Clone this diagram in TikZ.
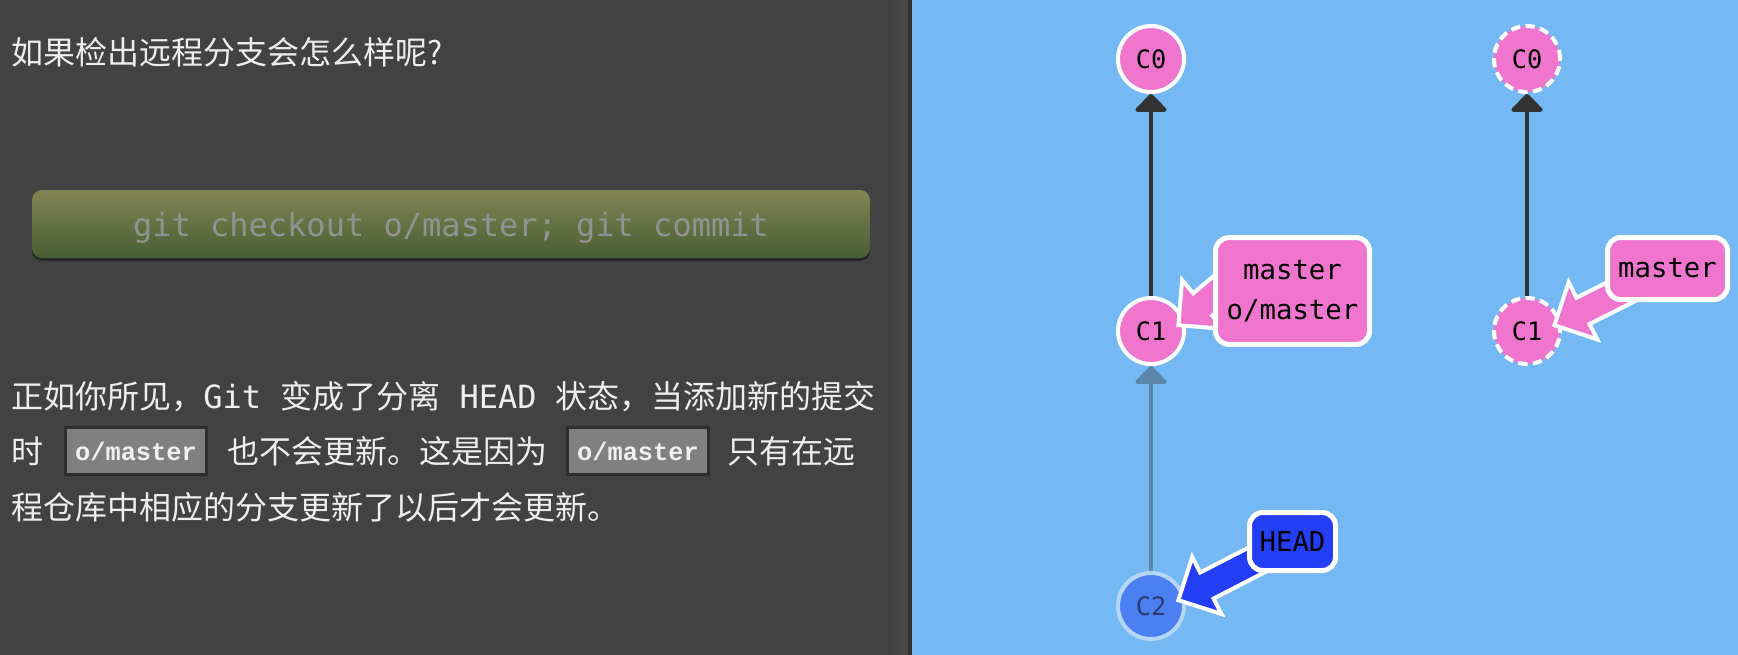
\documentclass[tikz,border=0pt]{standalone}
\usepackage{fontspec}
\setmonofont{DejaVu Sans Mono}
\newfontfamily\cjk{Noto Sans CJK SC}
\newfontfamily\codefont{Liberation Mono}
\usepackage{tikz}
\usetikzlibrary{arrows.meta, positioning, calc}
\definecolor{leftbg}{RGB}{66, 66, 66}
\definecolor{leftedge}{RGB}{74, 74, 74}
\definecolor{leftline}{RGB}{48, 48, 48}
\definecolor{panelblue}{RGB}{116, 185, 244}
\definecolor{textwhite}{RGB}{238, 238, 238}
\definecolor{cmdtop}{RGB}{130, 133, 82}
\definecolor{cmdbot}{RGB}{72, 94, 52}
\definecolor{cmdtext}{RGB}{146, 146, 146}
\definecolor{cmdshadow}{RGB}{40, 40, 40}
\definecolor{codegray}{RGB}{128, 128, 128}
\definecolor{codeborder}{RGB}{46, 46, 46}
\definecolor{codetext}{RGB}{240, 240, 240}
\definecolor{commitpink}{RGB}{239, 117, 205}
\definecolor{headblue}{RGB}{36, 62, 245}
\definecolor{edgedark}{RGB}{51, 51, 51}
\definecolor{fadededge}{RGB}{92, 135, 172}
\definecolor{fadedfill}{RGB}{76, 128, 242}
\definecolor{fadedstroke}{RGB}{182, 214, 248}
\definecolor{fadedtext}{RGB}{40, 60, 112}

\pgfdeclarelayer{fg}
\pgfsetlayers{main,fg}

% fat pointer from a branch label to a commit
\newcommand{\branchptr}[3]{%
  \coordinate (ptip) at #2;
  \coordinate (ptail) at #3;
  \coordinate (pback) at ($(ptip)!24pt!(ptail)$);
  \filldraw[fill=#1, draw=white, line width=3pt, miter limit=6]
    (ptip) -- ($(pback)!24pt!90:(ptip)$) -- ($(pback)!11pt!90:(ptip)$)
    -- ($(ptail)!11pt!90:(ptip)$) -- ($(ptail)!11pt!-90:(ptip)$)
    -- ($(pback)!11pt!-90:(ptip)$) -- ($(pback)!24pt!-90:(ptip)$) -- cycle;
}

\begin{document}
\begin{tikzpicture}[x=0.75pt, y=-0.75pt,
    bodytext/.style={anchor=base west, inner sep=0pt, text=textwhite, font=\cjk\fontsize{24}{28}\selectfont},
    cmdbox/.style={rounded corners=7.5pt, minimum width=628.5pt, minimum height=51pt, text depth=0pt, top color=cmdtop, bottom color=cmdbot, text=cmdtext, font=\ttfamily\fontsize{24}{24}\selectfont},
    codebox/.style={draw=codeborder, line width=2.25pt, fill=codegray, text=codetext, minimum width=105.75pt, minimum height=35.25pt, inner sep=0pt, font=\codefont\bfseries\fontsize{19}{19}\selectfont},
    commit/.style={circle, draw=white, line width=3pt, fill=commitpink, minimum size=49.5pt, inner sep=0pt, font=\ttfamily\fontsize{19}{19}\selectfont},
    remotecommit/.style={commit, dash pattern=on 7pt off 4pt},
    fadedcommit/.style={commit, fill=fadedfill, draw=fadedstroke, text=fadedtext},
    parentedge/.style={draw=edgedark, line width=3pt, -{Triangle[width=27pt, length=14pt, round]}},
    branchlabel/.style={draw=white, line width=3.75pt, fill=commitpink, rounded corners=10pt, inner sep=0pt, align=center, font=\ttfamily\fontsize{20.5}{30}\selectfont}
]
    \useasboundingbox (0,0) rectangle (1738,654);

    % panels
    \fill[leftbg] (-2,-2) rectangle (912,656);
    \shade[left color=leftbg, right color=leftedge] (890,-2) rectangle (908,656);
    \fill[leftline] (908,-2) rectangle (912,656);
    \fill[panelblue] (912,-2) rectangle (1740,656);

    % left side text
    \node[bodytext] (title) at (11,64) {如果检出远程分支会怎么样呢?};

    \fill[cmdshadow, rounded corners=7.5pt] (32,193) rectangle (870,261);
    \node[cmdbox] (cmd) at (451,224) {git checkout o/master; git commit};

    \node[bodytext] (line1) at (11,408) {正如你所见，\texttt{Git }变成了分离\texttt{ HEAD }状态，当添加新的提交};
    \node[bodytext] (line2a) at (11,463) {时};
    \node[codebox] (code1) at (136,451) {o/master};
    \node[bodytext] (line2b) at (227,463) {也不会更新。这是因为};
    \node[codebox] (code2) at (638,451) {o/master};
    \node[bodytext] (line2c) at (727,463) {只有在远};
    \node[bodytext] (line3) at (11,519) {程仓库中相应的分支更新了以后才会更新。};

    % local tree
    \node[commit] (c0) at (1151,59) {C0};
    \node[commit] (c1) at (1151,331) {C1};
    \node[fadedcommit] (c2) at (1151,606) {C2};
    \draw[parentedge] (c1) -- (c0);
    \draw[parentedge, draw=fadededge] (c2) -- (c1);

    % remote tree
    \node[remotecommit] (r0) at (1527,59) {C0};
    \node[remotecommit] (r1) at (1527,331) {C1};
    \draw[parentedge] (r1) -- (r0);

    % branch labels
    \begin{pgfonlayer}{fg}
        \node[branchlabel, minimum width=115.5pt, minimum height=80pt] (lmaster) at (1292.5,291) {master\\o/master};
        \node[branchlabel, minimum width=90pt, minimum height=46.5pt] (lremote) at (1667.5,268.5) {master};
        \node[branchlabel, fill=headblue, minimum width=64.5pt, minimum height=43.5pt] (lhead) at (1292.5,541.5) {HEAD};
    \end{pgfonlayer}

    \branchptr{commitpink}{($(c1.center)!0.8!(c1.12)$)}{([xshift=30pt, yshift=-20pt]lmaster.north west)}
    \branchptr{commitpink}{($(r1.center)!0.8!(r1.12)$)}{(lremote.center)}
    \branchptr{headblue}{($(c2.center)!0.8!(c2.12)$)}{(lhead.center)}

\end{tikzpicture}
\end{document}
